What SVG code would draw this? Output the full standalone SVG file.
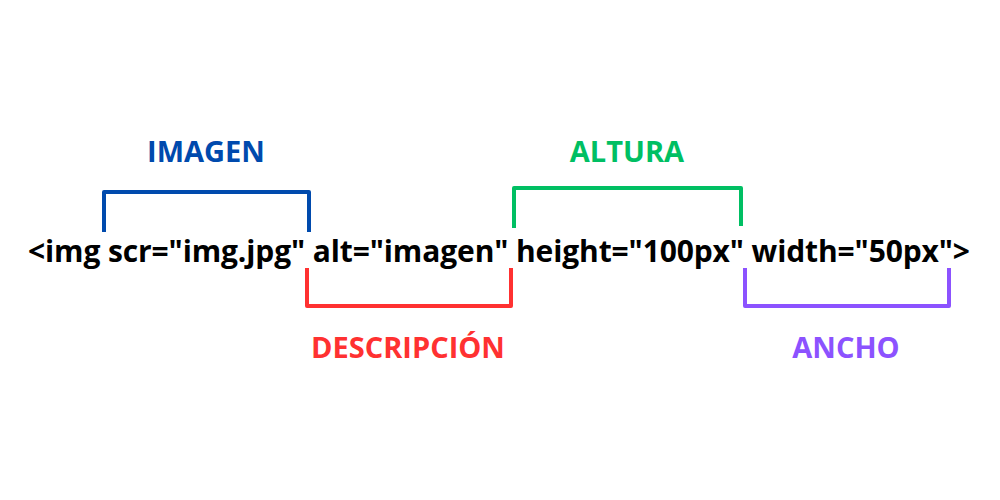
<svg xmlns="http://www.w3.org/2000/svg" width="1000" height="500" viewBox="0 0 1000 500">
<style>
text{font-family:"Open Sans","Liberation Sans",sans-serif;font-weight:700}
.code{font-size:30px;fill:#000}
.lbl{font-size:29px;text-anchor:middle}
.br{fill:none;stroke-width:4;stroke-linejoin:round}
</style>
<rect width="1000" height="500" fill="#fff"/>
<g id="code"><text class="code" x="28" y="262" textLength="942" lengthAdjust="spacing">&lt;img scr="img.jpg" alt="imagen" height="100px" width="50px"&gt;</text></g>
<g id="connectors">
<polyline class="br" stroke="#004aad" points="104,232 104,192 309,192 309,232"/>
<polyline class="br" stroke="#ff3131" points="307,268 307,306 511,306 511,268"/>
<polyline class="br" stroke="#00bf63" points="514,228 514,188 741,188 741,226"/>
<polyline class="br" stroke="#8c52ff" points="745,268 745,306 949,306 949,268"/>
</g>
<g id="imagen"><text class="lbl" x="206" y="162" fill="#004aad">IMAGEN</text></g>
<g id="descripcion"><text class="lbl" x="408" y="358" fill="#ff3131">DESCRIPCIÓN</text></g>
<g id="altura"><text class="lbl" x="627" y="162" fill="#00bf63">ALTURA</text></g>
<g id="ancho"><text class="lbl" x="846" y="358" fill="#8c52ff">ANCHO</text></g>
</svg>
